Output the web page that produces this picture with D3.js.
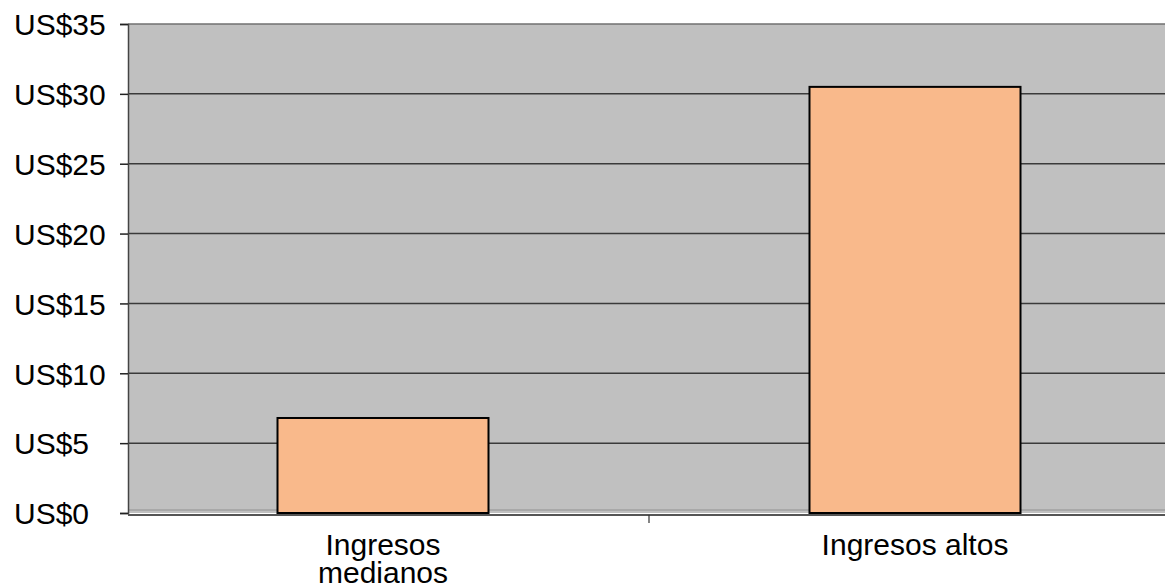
<!DOCTYPE html>
<html><head><meta charset="utf-8">
<script src="https://cdn.jsdelivr.net/npm/d3@7"></script>
<style>
html,body{margin:0;padding:0;background:#fff;}
svg{display:block;}
text{font-family:"Liberation Sans",Arial,sans-serif;fill:#000;}
</style></head>
<body>
<svg id="chart" width="1165" height="588"></svg>
<script>
const categories = [["Ingresos","medianos"],["Ingresos altos"]];
const values = [6.8, 30.5];
const yTicks = [0,5,10,15,20,25,30,35];
const yTickLabels = ["US$0","US$5","US$10","US$15","US$20","US$25","US$30","US$35"];

const svg = d3.select("#chart");
const plotLeft = 128, plotRight = 1165, plotTop = 24, plotBottom = 513;

const y = d3.scaleLinear().domain([0,35]).range([plotBottom, plotTop]);
const x = d3.scaleBand().domain(categories.map((d,i)=>i)).range([117,1181]).paddingInner(0).paddingOuter(0);
const barW = 211;

svg.append("rect").attr("x",plotLeft).attr("y",plotTop).attr("width",plotRight-plotLeft).attr("height",plotBottom-plotTop).attr("fill","#c0c0c0");
svg.append("line").attr("x1",plotLeft).attr("x2",plotRight).attr("y1",plotBottom-3).attr("y2",plotBottom-3).attr("stroke","#a8a8a8").attr("stroke-width",2);

svg.append("g").selectAll("line").data(yTicks.filter(t=>t>0)).join("line")
  .attr("x1",plotLeft).attr("x2",plotRight)
  .attr("y1",d=>y(d)).attr("y2",d=>y(d))
  .attr("stroke",d=>d===35?"#707070":"#3a3a3a").attr("stroke-width",1.5);

svg.append("g").selectAll("rect").data(values).join("rect")
  .attr("x",(d,i)=>x(i)+x.bandwidth()/2-barW/2)
  .attr("width",barW)
  .attr("y",d=>y(d))
  .attr("height",d=>y(0)-y(d))
  .attr("fill","#f9b98b").attr("stroke","#000").attr("stroke-width",2);

const yAxis = d3.axisLeft(y).tickValues(yTicks).tickSize(8).tickFormat((d,i)=>yTickLabels[i]);
const gy = svg.append("g").attr("transform",`translate(${plotLeft},0)`).call(yAxis);
gy.select(".domain").attr("stroke","#444").attr("stroke-width",1.5);
gy.selectAll(".tick line").attr("stroke","#222").attr("stroke-width",1.5);
gy.selectAll(".tick text").attr("text-anchor","start").attr("x",14-plotLeft).attr("dy","0.36em")
  .style("font-size","30px").style("font-family","'Liberation Sans',Arial,sans-serif").attr("fill","#000");

svg.append("line").attr("x1",plotLeft).attr("x2",plotRight).attr("y1",plotBottom+2).attr("y2",plotBottom+2).attr("stroke","#555").attr("stroke-width",2);
const bounds = [x(1)];
svg.append("g").selectAll("line").data(bounds).join("line")
  .attr("x1",d=>d).attr("x2",d=>d).attr("y1",plotBottom+2).attr("y2",plotBottom+10)
  .attr("stroke","#333").attr("stroke-width",1.2);

const lbl = svg.append("g").selectAll("text").data(categories).join("text")
  .attr("text-anchor","middle")
  .attr("x",(d,i)=>x(i)+x.bandwidth()/2)
  .attr("y",555)
  .style("font-size","30px");
lbl.selectAll("tspan").data(d=>d).join("tspan")
  .attr("x",function(){return d3.select(this.parentNode).attr("x");})
  .attr("dy",(d,i)=>i===0?0:28)
  .text(d=>d);
</script>
</body></html>
